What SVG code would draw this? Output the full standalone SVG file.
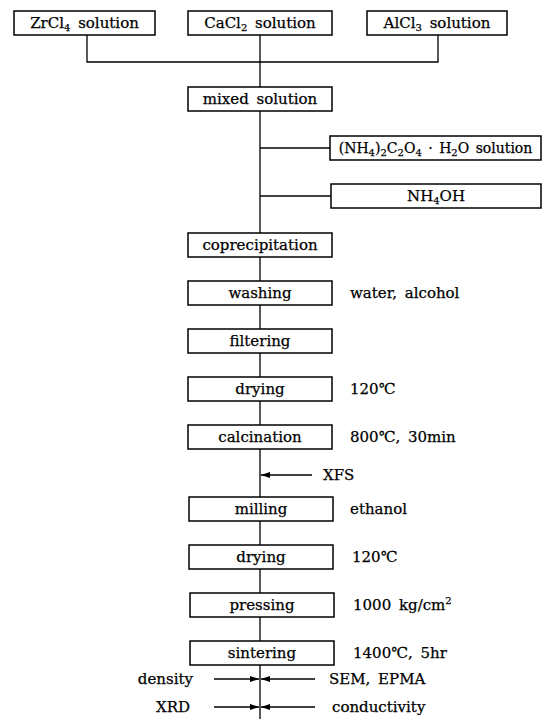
<svg xmlns="http://www.w3.org/2000/svg" width="546" height="719" viewBox="0 0 546 719">
<defs>
<style>
.box{fill:#fff;stroke:#000;stroke-width:1.5}
.ln{fill:none;stroke:#000;stroke-width:1.3}
.t{font-family:"DejaVu Serif","Liberation Serif",serif;font-size:15px;fill:#000;stroke:#000;stroke-width:0.25;text-anchor:middle;word-spacing:3px}
.s{font-family:"DejaVu Serif","Liberation Serif",serif;font-size:15px;fill:#000;stroke:#000;stroke-width:0.25;word-spacing:3px}
.sub{font-size:10px}
</style>
<marker id="ah" viewBox="0 0 9 6" refX="9" refY="3" markerWidth="9" markerHeight="6" markerUnits="userSpaceOnUse" orient="auto">
<path d="M0,0 L9,3 L0,6 Z" fill="#000"/>
</marker>
</defs>
<rect width="546" height="719" fill="#fff"/>

<g id="connectors">
<path class="ln" d="M87,35 V62 H438 V35"/>
<path class="ln" d="M260,35 V87"/>
<path class="ln" d="M260,111 V233"/>
<path class="ln" d="M260,148 H330"/>
<path class="ln" d="M260,196 H331"/>
<path class="ln" d="M260,257 V281 M260,305 V329 M260,353 V377 M260,401 V425 M260,449 V497 M260,521 V545 M260,569 V593 M260,617 V641 M260,665 V719"/>
<line class="ln" x1="312" y1="475" x2="261" y2="475" marker-end="url(#ah)"/>
<line class="ln" x1="214" y1="679" x2="259" y2="679" marker-end="url(#ah)"/>
<line class="ln" x1="315" y1="679" x2="261" y2="679" marker-end="url(#ah)"/>
<line class="ln" x1="214" y1="707" x2="259" y2="707" marker-end="url(#ah)"/>
<line class="ln" x1="315" y1="707" x2="261" y2="707" marker-end="url(#ah)"/>
</g>

<g id="zrcl4"><rect class="box" x="14" y="11" width="141" height="24"/><text class="t" x="84.5" y="28">ZrCl<tspan class="sub" dy="3">4</tspan><tspan dy="-3"> solution</tspan></text></g>
<g id="cacl2"><rect class="box" x="188" y="11" width="144" height="24"/><text class="t" x="260" y="28">CaCl<tspan class="sub" dy="3">2</tspan><tspan dy="-3"> solution</tspan></text></g>
<g id="alcl3"><rect class="box" x="367" y="11" width="140" height="24"/><text class="t" x="437" y="28">AlCl<tspan class="sub" dy="3">3</tspan><tspan dy="-3"> solution</tspan></text></g>

<g id="mixed"><rect class="box" x="188" y="87" width="144" height="24"/><text class="t" x="260" y="104">mixed solution</text></g>
<g id="oxalate"><rect class="box" x="330" y="136" width="211" height="24"/><text class="t" x="435.5" y="153" style="font-size:14px;word-spacing:2px">(NH<tspan class="sub" dy="3">4</tspan><tspan dy="-3">)</tspan><tspan class="sub" dy="3">2</tspan><tspan dy="-3">C</tspan><tspan class="sub" dy="3">2</tspan><tspan dy="-3">O</tspan><tspan class="sub" dy="3">4</tspan><tspan dy="-3"> · H</tspan><tspan class="sub" dy="3">2</tspan><tspan dy="-3">O solution</tspan></text></g>
<g id="nh4oh"><rect class="box" x="331" y="184" width="210" height="24"/><text class="t" x="436" y="201">NH<tspan class="sub" dy="3">4</tspan><tspan dy="-3">OH</tspan></text></g>

<g id="coprecipitation"><rect class="box" x="188" y="233" width="144" height="24"/><text class="t" x="260" y="250">coprecipitation</text></g>
<g id="washing"><rect class="box" x="188" y="281" width="144" height="24"/><text class="t" x="260" y="298">washing</text><text class="s" x="350" y="298">water, alcohol</text></g>
<g id="filtering"><rect class="box" x="188" y="329" width="144" height="24"/><text class="t" x="260" y="346">filtering</text></g>
<g id="drying1"><rect class="box" x="188" y="377" width="144" height="24"/><text class="t" x="260" y="394">drying</text><text class="s" x="350" y="394">120℃</text></g>
<g id="calcination"><rect class="box" x="188" y="425" width="144" height="24"/><text class="t" x="260" y="442">calcination</text><text class="s" x="350" y="442">800℃, 30min</text></g>
<g id="xfs"><text class="s" x="323" y="480">XFS</text></g>
<g id="milling"><rect class="box" x="189" y="497" width="144" height="24"/><text class="t" x="261" y="514">milling</text><text class="s" x="350" y="514">ethanol</text></g>
<g id="drying2"><rect class="box" x="189" y="545" width="144" height="24"/><text class="t" x="261" y="562">drying</text><text class="s" x="352" y="562">120℃</text></g>
<g id="pressing"><rect class="box" x="190" y="593" width="144" height="24"/><text class="t" x="262" y="610">pressing</text><text class="s" x="353" y="610">1000 kg/cm<tspan class="sub" dy="-6">2</tspan></text></g>
<g id="sintering"><rect class="box" x="190" y="641" width="144" height="24"/><text class="t" x="262" y="658">sintering</text><text class="s" x="353" y="658">1400℃, 5hr</text></g>

<g id="density"><text class="s" x="193" y="684" text-anchor="end">density</text></g>
<g id="sem"><text class="s" x="329" y="684">SEM, EPMA</text></g>
<g id="xrd"><text class="s" x="190" y="712" text-anchor="end">XRD</text></g>
<g id="conductivity"><text class="s" x="332" y="712">conductivity</text></g>
</svg>
